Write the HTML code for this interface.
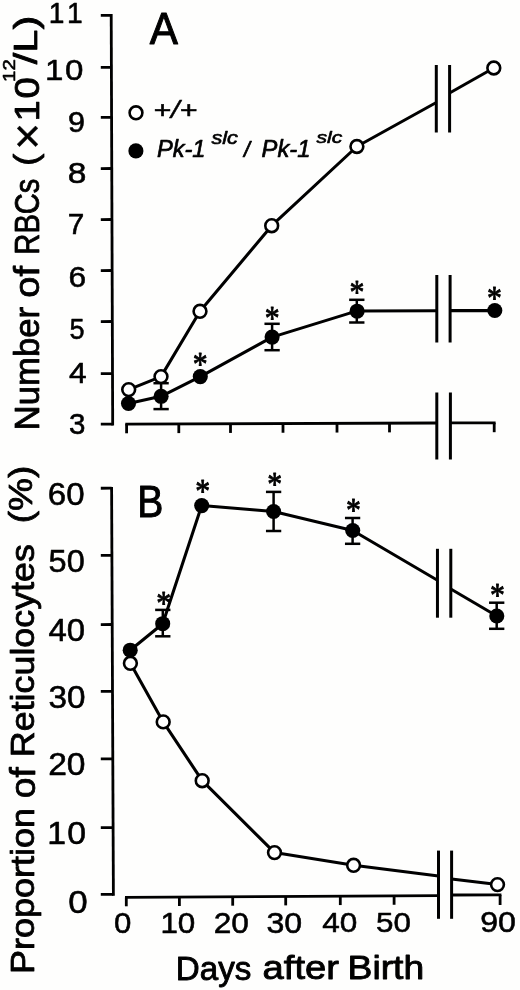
<!DOCTYPE html>
<html lang="en"><head><meta charset="utf-8"><title>RBC number and reticulocyte proportion after birth</title>
<style>
html,body{margin:0;padding:0;background:#fefefd;}
body{width:520px;height:990px;overflow:hidden;}
svg{display:block;}
text{fill:#000;}
</style></head><body>
<svg role="img" aria-label="Number of RBCs and proportion of reticulocytes versus days after birth" width="520" height="990" viewBox="0 0 520 990">
<defs><filter id="soft" filterUnits="userSpaceOnUse" x="0" y="0" width="520" height="990"><feGaussianBlur stdDeviation="0.4"/></filter></defs>
<rect width="520" height="990" fill="#fefefd"/>
<g filter="url(#soft)">
<!-- Panel A: axes, breaks, series -->
<line x1="111.20" y1="14.00" x2="112.70" y2="425.50" stroke="#000" stroke-width="2.8"/>
<line x1="100.80" y1="15.45" x2="111.20" y2="15.40" stroke="#000" stroke-width="2.8"/>
<line x1="100.80" y1="67.35" x2="111.39" y2="67.30" stroke="#000" stroke-width="2.8"/>
<line x1="100.80" y1="117.35" x2="111.58" y2="117.30" stroke="#000" stroke-width="2.8"/>
<line x1="100.80" y1="168.55" x2="111.77" y2="168.50" stroke="#000" stroke-width="2.8"/>
<line x1="100.80" y1="219.55" x2="111.96" y2="219.50" stroke="#000" stroke-width="2.8"/>
<line x1="100.80" y1="270.55" x2="112.15" y2="270.50" stroke="#000" stroke-width="2.8"/>
<line x1="100.80" y1="321.55" x2="112.33" y2="321.50" stroke="#000" stroke-width="2.8"/>
<line x1="100.80" y1="373.65" x2="112.53" y2="373.60" stroke="#000" stroke-width="2.8"/>
<line x1="100.80" y1="424.15" x2="112.71" y2="424.10" stroke="#000" stroke-width="2.8"/>
<line x1="125.30" y1="424.10" x2="437.00" y2="423.00" stroke="#000" stroke-width="2.8"/>
<line x1="450.00" y1="422.90" x2="495.60" y2="422.80" stroke="#000" stroke-width="2.8"/>
<line x1="126.60" y1="424.09" x2="126.60" y2="433.29" stroke="#000" stroke-width="2.8"/>
<line x1="178.80" y1="423.91" x2="178.80" y2="433.11" stroke="#000" stroke-width="2.8"/>
<line x1="230.50" y1="423.73" x2="230.50" y2="432.93" stroke="#000" stroke-width="2.8"/>
<line x1="283.00" y1="423.55" x2="283.00" y2="432.75" stroke="#000" stroke-width="2.8"/>
<line x1="337.00" y1="423.36" x2="337.00" y2="432.56" stroke="#000" stroke-width="2.8"/>
<line x1="389.50" y1="423.17" x2="389.50" y2="432.37" stroke="#000" stroke-width="2.8"/>
<line x1="494.20" y1="422.80" x2="494.20" y2="432.20" stroke="#000" stroke-width="2.8"/>
<line x1="436.30" y1="65.00" x2="436.30" y2="132.50" stroke="#000" stroke-width="3.0"/>
<line x1="449.60" y1="65.00" x2="449.60" y2="132.50" stroke="#000" stroke-width="3.0"/>
<line x1="436.80" y1="275.00" x2="436.80" y2="342.50" stroke="#000" stroke-width="3.0"/>
<line x1="450.10" y1="275.00" x2="450.10" y2="342.50" stroke="#000" stroke-width="3.0"/>
<line x1="436.80" y1="392.50" x2="436.80" y2="459.50" stroke="#000" stroke-width="3.0"/>
<line x1="450.40" y1="392.50" x2="450.40" y2="459.50" stroke="#000" stroke-width="3.0"/>
<polyline fill="none" stroke="#000" stroke-width="3.05" stroke-linejoin="round" points="128.7,389.6 161,376.6 200,311.3 271.7,225.7 356.9,146.5 436.3,102.5"/>
<polyline fill="none" stroke="#000" stroke-width="3.05" stroke-linejoin="round" points="449.6,93 493.8,68"/>
<polyline fill="none" stroke="#000" stroke-width="3.05" stroke-linejoin="round" points="128.5,403.5 161.1,396.3 200.3,376.6 272.1,337.1 357.1,310.9 436.8,310.7"/>
<polyline fill="none" stroke="#000" stroke-width="3.05" stroke-linejoin="round" points="450.1,310.6 494.8,310.6"/>
<line x1="161.10" y1="383.20" x2="161.10" y2="409.10" stroke="#000" stroke-width="2.5"/>
<line x1="153.45" y1="383.20" x2="168.75" y2="383.20" stroke="#000" stroke-width="2.5"/>
<line x1="153.45" y1="409.10" x2="168.75" y2="409.10" stroke="#000" stroke-width="2.5"/>
<line x1="272.10" y1="323.80" x2="272.10" y2="350.20" stroke="#000" stroke-width="2.5"/>
<line x1="264.45" y1="323.80" x2="279.75" y2="323.80" stroke="#000" stroke-width="2.5"/>
<line x1="264.45" y1="350.20" x2="279.75" y2="350.20" stroke="#000" stroke-width="2.5"/>
<line x1="356.80" y1="299.80" x2="356.80" y2="322.50" stroke="#000" stroke-width="2.5"/>
<line x1="349.15" y1="299.80" x2="364.45" y2="299.80" stroke="#000" stroke-width="2.5"/>
<line x1="349.15" y1="322.50" x2="364.45" y2="322.50" stroke="#000" stroke-width="2.5"/>
<circle cx="128.7" cy="389.6" r="6.4" fill="#fff" stroke="#000" stroke-width="2.6"/>
<circle cx="161" cy="376.6" r="6.4" fill="#fff" stroke="#000" stroke-width="2.6"/>
<circle cx="200" cy="311.3" r="6.4" fill="#fff" stroke="#000" stroke-width="2.6"/>
<circle cx="271.7" cy="225.7" r="6.4" fill="#fff" stroke="#000" stroke-width="2.6"/>
<circle cx="356.9" cy="146.5" r="6.4" fill="#fff" stroke="#000" stroke-width="2.6"/>
<circle cx="493.8" cy="68" r="6.4" fill="#fff" stroke="#000" stroke-width="2.6"/>
<circle cx="128.5" cy="403.5" r="7.55" fill="#000"/>
<circle cx="161.1" cy="396.3" r="7.55" fill="#000"/>
<circle cx="200.3" cy="376.6" r="7.55" fill="#000"/>
<circle cx="272.1" cy="337.1" r="7.55" fill="#000"/>
<circle cx="357.1" cy="311.2" r="7.55" fill="#000"/>
<circle cx="494.8" cy="310.5" r="7.55" fill="#000"/>
<text transform="translate(192.66,375.28) scale(0.8687,1)" font-family='"Liberation Serif", serif' font-style="normal" font-size="34.25px" stroke="#000" stroke-width="0.90" stroke-linejoin="round">*</text>
<text transform="translate(264.66,329.28) scale(0.8687,1)" font-family='"Liberation Serif", serif' font-style="normal" font-size="34.25px" stroke="#000" stroke-width="0.90" stroke-linejoin="round">*</text>
<text transform="translate(349.56,303.08) scale(0.8687,1)" font-family='"Liberation Serif", serif' font-style="normal" font-size="34.25px" stroke="#000" stroke-width="0.90" stroke-linejoin="round">*</text>
<text transform="translate(487.06,308.98) scale(0.8687,1)" font-family='"Liberation Serif", serif' font-style="normal" font-size="34.25px" stroke="#000" stroke-width="0.90" stroke-linejoin="round">*</text>
<!-- Panel B: axes, breaks, series -->
<line x1="111.60" y1="486.90" x2="113.40" y2="895.70" stroke="#000" stroke-width="2.8"/>
<line x1="100.80" y1="488.25" x2="111.61" y2="488.20" stroke="#000" stroke-width="2.8"/>
<line x1="100.80" y1="555.35" x2="111.90" y2="555.30" stroke="#000" stroke-width="2.8"/>
<line x1="100.80" y1="624.55" x2="112.20" y2="624.50" stroke="#000" stroke-width="2.8"/>
<line x1="100.80" y1="691.45" x2="112.50" y2="691.40" stroke="#000" stroke-width="2.8"/>
<line x1="100.80" y1="758.95" x2="112.80" y2="758.90" stroke="#000" stroke-width="2.8"/>
<line x1="100.80" y1="827.65" x2="113.10" y2="827.60" stroke="#000" stroke-width="2.8"/>
<line x1="100.80" y1="894.45" x2="113.39" y2="894.40" stroke="#000" stroke-width="2.8"/>
<line x1="125.00" y1="897.40" x2="438.50" y2="895.60" stroke="#000" stroke-width="2.8"/>
<line x1="451.60" y1="895.00" x2="501.40" y2="894.90" stroke="#000" stroke-width="2.8"/>
<line x1="126.30" y1="897.39" x2="126.30" y2="906.29" stroke="#000" stroke-width="2.8"/>
<line x1="179.40" y1="897.09" x2="179.40" y2="905.99" stroke="#000" stroke-width="2.8"/>
<line x1="232.70" y1="896.79" x2="232.70" y2="905.69" stroke="#000" stroke-width="2.8"/>
<line x1="285.70" y1="896.48" x2="285.70" y2="905.38" stroke="#000" stroke-width="2.8"/>
<line x1="340.30" y1="896.17" x2="340.30" y2="905.07" stroke="#000" stroke-width="2.8"/>
<line x1="394.10" y1="895.87" x2="394.10" y2="904.77" stroke="#000" stroke-width="2.8"/>
<line x1="500.10" y1="894.90" x2="500.10" y2="905.00" stroke="#000" stroke-width="2.8"/>
<line x1="437.45" y1="548.80" x2="437.45" y2="617.70" stroke="#000" stroke-width="3.0"/>
<line x1="450.80" y1="548.80" x2="450.80" y2="617.70" stroke="#000" stroke-width="3.0"/>
<line x1="438.50" y1="850.60" x2="438.50" y2="918.80" stroke="#000" stroke-width="3.0"/>
<line x1="451.60" y1="850.60" x2="451.60" y2="918.80" stroke="#000" stroke-width="3.0"/>
<polyline fill="none" stroke="#000" stroke-width="3.05" stroke-linejoin="round" points="130.2,650.2 162.7,623.7 201.7,505.6 273.6,511.5 352.7,530.5 437.45,580.2"/>
<polyline fill="none" stroke="#000" stroke-width="3.05" stroke-linejoin="round" points="450.8,589.0 496.8,616"/>
<polyline fill="none" stroke="#000" stroke-width="3.05" stroke-linejoin="round" points="130.4,663.3 163.2,721.9 202.2,780.7 274.5,852.6 353.6,865.3 438.5,876.1"/>
<polyline fill="none" stroke="#000" stroke-width="3.05" stroke-linejoin="round" points="451.6,878.9 497.5,884.6"/>
<line x1="162.80" y1="609.90" x2="162.80" y2="636.30" stroke="#000" stroke-width="2.5"/>
<line x1="155.15" y1="609.90" x2="170.45" y2="609.90" stroke="#000" stroke-width="2.5"/>
<line x1="155.15" y1="636.30" x2="170.45" y2="636.30" stroke="#000" stroke-width="2.5"/>
<line x1="273.60" y1="491.90" x2="273.60" y2="531.00" stroke="#000" stroke-width="2.5"/>
<line x1="265.95" y1="491.90" x2="281.25" y2="491.90" stroke="#000" stroke-width="2.5"/>
<line x1="265.95" y1="531.00" x2="281.25" y2="531.00" stroke="#000" stroke-width="2.5"/>
<line x1="352.60" y1="518.00" x2="352.60" y2="543.80" stroke="#000" stroke-width="2.5"/>
<line x1="344.95" y1="518.00" x2="360.25" y2="518.00" stroke="#000" stroke-width="2.5"/>
<line x1="344.95" y1="543.80" x2="360.25" y2="543.80" stroke="#000" stroke-width="2.5"/>
<line x1="496.70" y1="602.70" x2="496.70" y2="628.80" stroke="#000" stroke-width="2.5"/>
<line x1="489.05" y1="602.70" x2="504.35" y2="602.70" stroke="#000" stroke-width="2.5"/>
<line x1="489.05" y1="628.80" x2="504.35" y2="628.80" stroke="#000" stroke-width="2.5"/>
<circle cx="130.4" cy="663.3" r="6.4" fill="#fff" stroke="#000" stroke-width="2.6"/>
<circle cx="163.2" cy="721.9" r="6.4" fill="#fff" stroke="#000" stroke-width="2.6"/>
<circle cx="202.2" cy="780.7" r="6.4" fill="#fff" stroke="#000" stroke-width="2.6"/>
<circle cx="274.5" cy="852.6" r="6.4" fill="#fff" stroke="#000" stroke-width="2.6"/>
<circle cx="353.6" cy="865.3" r="6.4" fill="#fff" stroke="#000" stroke-width="2.6"/>
<circle cx="497.5" cy="884.6" r="6.4" fill="#fff" stroke="#000" stroke-width="2.6"/>
<circle cx="130.2" cy="650.2" r="7.55" fill="#000"/>
<circle cx="162.7" cy="623.7" r="7.55" fill="#000"/>
<circle cx="201.7" cy="505.6" r="7.55" fill="#000"/>
<circle cx="273.6" cy="511.5" r="7.55" fill="#000"/>
<circle cx="352.7" cy="530.5" r="7.55" fill="#000"/>
<circle cx="496.8" cy="616" r="7.55" fill="#000"/>
<text transform="translate(156.16,613.68) scale(0.8687,1)" font-family='"Liberation Serif", serif' font-style="normal" font-size="34.25px" stroke="#000" stroke-width="0.90" stroke-linejoin="round">*</text>
<text transform="translate(195.16,501.78) scale(0.8687,1)" font-family='"Liberation Serif", serif' font-style="normal" font-size="34.25px" stroke="#000" stroke-width="0.90" stroke-linejoin="round">*</text>
<text transform="translate(267.26,495.28) scale(0.8687,1)" font-family='"Liberation Serif", serif' font-style="normal" font-size="34.25px" stroke="#000" stroke-width="0.90" stroke-linejoin="round">*</text>
<text transform="translate(346.06,520.98) scale(0.8687,1)" font-family='"Liberation Serif", serif' font-style="normal" font-size="34.25px" stroke="#000" stroke-width="0.90" stroke-linejoin="round">*</text>
<text transform="translate(489.96,605.68) scale(0.8687,1)" font-family='"Liberation Serif", serif' font-style="normal" font-size="34.25px" stroke="#000" stroke-width="0.90" stroke-linejoin="round">*</text>
<!-- Text: tick labels, panel letters, axis titles, legend -->
<text transform="translate(0,22.62) scale(0.9600,1)" x="50.79 69.75" font-family='"Liberation Sans", sans-serif' font-style="normal" font-size="29.35px" stroke="#000" stroke-width="0.55" stroke-linejoin="round">11</text>
<text transform="translate(0,80.02) scale(1.1000,1)" x="40.84 59.13" font-family='"Liberation Sans", sans-serif' font-style="normal" font-size="30.07px" stroke="#000" stroke-width="0.55" stroke-linejoin="round">10</text>
<text transform="translate(67.90,131.63) scale(1.0537,1)" font-family='"Liberation Sans", sans-serif' font-style="normal" font-size="29.08px" stroke="#000" stroke-width="0.55" stroke-linejoin="round">9</text>
<text transform="translate(67.77,182.52) scale(1.1144,1)" font-family='"Liberation Sans", sans-serif' font-style="normal" font-size="30.07px" stroke="#000" stroke-width="0.55" stroke-linejoin="round">8</text>
<text transform="translate(67.79,233.72) scale(0.9951,1)" font-family='"Liberation Sans", sans-serif' font-style="normal" font-size="29.93px" stroke="#000" stroke-width="0.55" stroke-linejoin="round">7</text>
<text transform="translate(68.39,287.03) scale(1.0699,1)" font-family='"Liberation Sans", sans-serif' font-style="normal" font-size="29.65px" stroke="#000" stroke-width="0.55" stroke-linejoin="round">6</text>
<text transform="translate(69.59,338.63) scale(0.9170,1)" font-family='"Liberation Sans", sans-serif' font-style="normal" font-size="29.50px" stroke="#000" stroke-width="0.55" stroke-linejoin="round">5</text>
<text transform="translate(69.04,382.73) scale(1.0620,1)" font-family='"Liberation Sans", sans-serif' font-style="normal" font-size="29.93px" stroke="#000" stroke-width="0.55" stroke-linejoin="round">4</text>
<text transform="translate(69.09,434.13) scale(0.9930,1)" font-family='"Liberation Sans", sans-serif' font-style="normal" font-size="29.79px" stroke="#000" stroke-width="0.55" stroke-linejoin="round">3</text>
<text transform="translate(0,844.42) scale(1.1000,1)" x="43.00 61.20" font-family='"Liberation Sans", sans-serif' font-style="normal" font-size="30.77px" stroke="#000" stroke-width="0.55" stroke-linejoin="round">10</text>
<text transform="translate(47.82,504.81) scale(1.0586,1)" font-family='"Liberation Sans", sans-serif' font-style="normal" font-size="31.20px" stroke="#000" stroke-width="0.55" stroke-linejoin="round">60</text>
<text transform="translate(48.57,571.81) scale(1.0469,1)" font-family='"Liberation Sans", sans-serif' font-style="normal" font-size="31.06px" stroke="#000" stroke-width="0.55" stroke-linejoin="round">50</text>
<text transform="translate(48.42,641.11) scale(1.0606,1)" font-family='"Liberation Sans", sans-serif' font-style="normal" font-size="31.06px" stroke="#000" stroke-width="0.55" stroke-linejoin="round">40</text>
<text transform="translate(48.54,708.32) scale(1.0916,1)" font-family='"Liberation Sans", sans-serif' font-style="normal" font-size="30.49px" stroke="#000" stroke-width="0.55" stroke-linejoin="round">30</text>
<text transform="translate(48.19,775.22) scale(1.0971,1)" font-family='"Liberation Sans", sans-serif' font-style="normal" font-size="30.63px" stroke="#000" stroke-width="0.55" stroke-linejoin="round">20</text>
<text transform="translate(68.28,912.61) scale(1.1186,1)" font-family='"Liberation Sans", sans-serif' font-style="normal" font-size="31.20px" stroke="#000" stroke-width="0.55" stroke-linejoin="round">0</text>
<text transform="translate(0,933.03) scale(1.0600,1)" x="151.52 167.74" font-family='"Liberation Sans", sans-serif' font-style="normal" font-size="29.65px" stroke="#000" stroke-width="0.55" stroke-linejoin="round">10</text>
<text transform="translate(114.03,933.23) scale(1.0406,1)" font-family='"Liberation Sans", sans-serif' font-style="normal" font-size="29.93px" stroke="#000" stroke-width="0.55" stroke-linejoin="round">0</text>
<text transform="translate(213.69,932.73) scale(1.0833,1)" font-family='"Liberation Sans", sans-serif' font-style="normal" font-size="29.23px" stroke="#000" stroke-width="0.55" stroke-linejoin="round">20</text>
<text transform="translate(266.49,932.73) scale(1.0992,1)" font-family='"Liberation Sans", sans-serif' font-style="normal" font-size="29.23px" stroke="#000" stroke-width="0.55" stroke-linejoin="round">30</text>
<text transform="translate(322.14,932.24) scale(1.1050,1)" font-family='"Liberation Sans", sans-serif' font-style="normal" font-size="28.52px" stroke="#000" stroke-width="0.55" stroke-linejoin="round">40</text>
<text transform="translate(376.02,932.24) scale(1.0993,1)" font-family='"Liberation Sans", sans-serif' font-style="normal" font-size="28.52px" stroke="#000" stroke-width="0.55" stroke-linejoin="round">50</text>
<text transform="translate(480.13,932.24) scale(1.1174,1)" font-family='"Liberation Sans", sans-serif' font-style="normal" font-size="28.80px" stroke="#000" stroke-width="0.55" stroke-linejoin="round">90</text>
<text transform="translate(149.70,43.90) scale(0.9623,1)" font-family='"Liberation Sans", sans-serif' font-style="normal" font-size="43.91px" stroke="#000" stroke-width="1.00" stroke-linejoin="round">A</text>
<text transform="translate(137.17,516.90) scale(0.8752,1)" font-family='"Liberation Sans", sans-serif' font-style="normal" font-size="44.64px" stroke="#000" stroke-width="1.00" stroke-linejoin="round">B</text>
<text transform="translate(175.80,979.75) scale(0.9949,1)" font-family='"Liberation Sans", sans-serif' font-style="normal" font-size="33.33px" stroke="#000" stroke-width="0.90" stroke-linejoin="round">Days</text>
<text transform="translate(262.62,978.81) scale(1.1276,1)" font-family='"Liberation Sans", sans-serif' font-style="normal" font-size="33.88px" stroke="#000" stroke-width="0.90" stroke-linejoin="round">after</text>
<text transform="translate(347.57,978.62) scale(1.1183,1)" font-family='"Liberation Sans", sans-serif' font-style="normal" font-size="33.33px" stroke="#000" stroke-width="0.90" stroke-linejoin="round">Birth</text>
<text transform="translate(38.76,430.38) rotate(-90) scale(1.0092,1)" font-family='"Liberation Sans", sans-serif' font-style="normal" font-size="34.42px" stroke="#000" stroke-width="0.80" stroke-linejoin="round">Number</text>
<text transform="translate(38.75,297.72) rotate(-90) scale(1.0986,1)" font-family='"Liberation Sans", sans-serif' font-style="normal" font-size="34.69px" stroke="#000" stroke-width="0.80" stroke-linejoin="round">of</text>
<text transform="translate(38.85,254.63) rotate(-90) scale(0.8242,1)" font-family='"Liberation Sans", sans-serif' font-style="normal" font-size="35.35px" stroke="#000" stroke-width="0.80" stroke-linejoin="round">RBCs</text>
<text transform="translate(37.24,165.77) rotate(-90) scale(1.0618,1)" font-family='"Liberation Sans", sans-serif' font-style="normal" font-size="34.12px" stroke="#000" stroke-width="0.80" stroke-linejoin="round">(</text>
<text transform="translate(42.64,149.72) rotate(-90) scale(1.0049,1)" font-family='"Liberation Sans", sans-serif' font-style="normal" font-size="45.84px" stroke="#000" stroke-width="0.40" stroke-linejoin="round">×</text>
<text transform="translate(38.65,0) rotate(-90) scale(1.1000,1)" x="-110.54 -89.65" font-family='"Liberation Sans", sans-serif' font-style="normal" font-size="34.79px" stroke="#000" stroke-width="0.80" stroke-linejoin="round">10</text>
<text transform="translate(15.30,81.93) rotate(-90) scale(1.1805,1)" font-family='"Liberation Sans", sans-serif' font-style="normal" font-size="17.29px" stroke="#000" stroke-width="0.60" stroke-linejoin="round">12</text>
<text transform="translate(36.93,64.20) rotate(-90) scale(1.2330,1)" font-family='"Liberation Sans", sans-serif' font-style="normal" font-size="33.69px" stroke="#000" stroke-width="0.80" stroke-linejoin="round">/L)</text>
<text transform="translate(34.27,974.08) rotate(-90) scale(1.0759,1)" font-family='"Liberation Sans", sans-serif' font-style="normal" font-size="33.48px" stroke="#000" stroke-width="0.80" stroke-linejoin="round">Proportion</text>
<text transform="translate(34.55,798.19) rotate(-90) scale(1.0732,1)" font-family='"Liberation Sans", sans-serif' font-style="normal" font-size="34.69px" stroke="#000" stroke-width="0.80" stroke-linejoin="round">of</text>
<text transform="translate(34.27,757.17) rotate(-90) scale(1.0709,1)" font-family='"Liberation Sans", sans-serif' font-style="normal" font-size="33.48px" stroke="#000" stroke-width="0.80" stroke-linejoin="round">Reticulocytes</text>
<text transform="translate(32.24,523.32) rotate(-90) scale(1.1158,1)" font-family='"Liberation Sans", sans-serif' font-style="normal" font-size="33.16px" stroke="#000" stroke-width="0.80" stroke-linejoin="round">(%)</text>
<circle cx="136" cy="112.8" r="6.4" fill="#fff" stroke="#000" stroke-width="2.6"/>
<circle cx="135.9" cy="150.9" r="7.55" fill="#000"/>
<text transform="translate(153.28,118.22) scale(1.3193,1)" font-family='"Liberation Sans", sans-serif' font-style="italic" font-size="22.99px" stroke="#000" stroke-width="0.50" stroke-linejoin="round">+/+</text>
<text transform="translate(156.94,157.15) scale(0.9837,1)" font-family='"Liberation Sans", sans-serif' font-style="italic" font-size="24.00px" stroke="#000" stroke-width="0.70" stroke-linejoin="round">Pk-1</text>
<text transform="translate(211.39,143.52) scale(1.2293,1)" font-family='"Liberation Sans", sans-serif' font-style="italic" font-size="17.69px" stroke="#000" stroke-width="0.60" stroke-linejoin="round">slc</text>
<text transform="translate(244.12,157.04) scale(0.9920,1)" font-family='"Liberation Sans", sans-serif' font-style="italic" font-size="21.36px" stroke="#000" stroke-width="0.70" stroke-linejoin="round">/</text>
<text transform="translate(261.54,156.65) scale(0.9901,1)" font-family='"Liberation Sans", sans-serif' font-style="italic" font-size="24.00px" stroke="#000" stroke-width="0.70" stroke-linejoin="round">Pk-1</text>
<text transform="translate(316.49,143.13) scale(1.2344,1)" font-family='"Liberation Sans", sans-serif' font-style="italic" font-size="17.14px" stroke="#000" stroke-width="0.60" stroke-linejoin="round">slc</text>
</g>
</svg>
</body></html>
